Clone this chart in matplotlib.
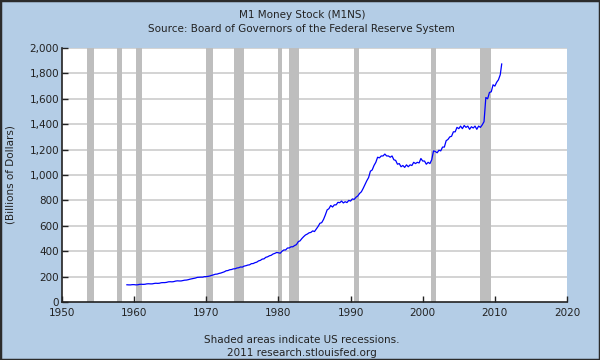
import matplotlib
matplotlib.use("Agg")
import matplotlib.pyplot as plt
from matplotlib.patches import Rectangle

# Quarterly M1NS values (billions of dollars), 1959-2010
years = list(range(1959, 2011))
quarterly_values = [
    136, 135, 135, 137,   # 1959
    137, 135, 136, 139,   # 1960
    140, 139, 140, 143,   # 1961
    144, 143, 143, 146,   # 1962
    148, 147, 148, 152,   # 1963
    153, 153, 155, 159,   # 1964
    160, 159, 161, 165,   # 1965
    167, 166, 166, 169,   # 1966
    172, 173, 176, 180,   # 1967
    183, 186, 189, 194,   # 1968
    195, 196, 196, 200,   # 1969
    200, 202, 205, 210,   # 1970
    214, 219, 220, 225,   # 1971
    228, 233, 238, 246,   # 1972
    248, 254, 256, 261,   # 1973
    262, 268, 270, 276,   # 1974
    275, 283, 286, 291,   # 1975
    293, 302, 303, 310,   # 1976
    314, 324, 328, 338,   # 1977
    340, 352, 356, 364,   # 1978
    368, 378, 383, 390,   # 1979
    388, 384, 400, 410,   # 1980
    410, 425, 426, 435,   # 1981
    435, 445, 452, 475,   # 1982
    482, 500, 515, 528,   # 1983
    535, 545, 548, 560,   # 1984
    555, 575, 595, 620,   # 1985
    625, 650, 685, 725,   # 1986
    735, 760, 748, 765,   # 1987
    765, 785, 782, 795,   # 1988
    780, 790, 783, 800,   # 1989
    795, 812, 808, 825,   # 1990
    835, 855, 868, 895,   # 1991
    925, 955, 980, 1030,  # 1992
    1040, 1075, 1100, 1140,  # 1993
    1135, 1150, 1150, 1165,  # 1994
    1150, 1150, 1140, 1150,  # 1995
    1120, 1115, 1085, 1090,  # 1996
    1065, 1075, 1060, 1080,  # 1997
    1065, 1080, 1075, 1100,  # 1998
    1090, 1100, 1095, 1130,  # 1999
    1110, 1110, 1085, 1100,  # 2000
    1090, 1120, 1190, 1185,  # 2001
    1175, 1195, 1190, 1220,  # 2002
    1220, 1270, 1280, 1300,  # 2003
    1305, 1340, 1340, 1375,  # 2004
    1365, 1385, 1365, 1390,  # 2005
    1375, 1385, 1360, 1380,  # 2006
    1370, 1385, 1360, 1385,  # 2007
    1375, 1395, 1420, 1610,  # 2008
    1600, 1650, 1655, 1710,  # 2009
    1700, 1730, 1750, 1790,  # 2010
]
last_date = 2010.95
last_value = 1874

# US recessions (start, end) in decimal years
recessions = [
    (1953.5, 1954.4), (1957.6, 1958.3), (1960.3, 1961.1), (1969.9, 1970.9),
    (1973.85, 1975.2), (1980.0, 1980.5), (1981.5, 1982.9), (1990.5, 1991.2),
    (2001.2, 2001.9), (2007.9, 2009.5),
]

xticks = [1950, 1960, 1970, 1980, 1990, 2000, 2010, 2020]
yticks = list(range(0, 2001, 200))

dates = [y + q / 4.0 for y in years for q in range(4)] + [last_date]
values = quarterly_values + [last_value]

bg = "#B4CDE6"
fig = plt.figure(figsize=(6, 3.6), dpi=100, facecolor=bg)
fig.patches.append(Rectangle((0, 0), 1, 1, transform=fig.transFigure,
                             fill=False, edgecolor="#2b2b2b", linewidth=2.5))
ax = fig.add_axes([0.1033, 0.161, 0.8417, 0.7057])
ax.set_facecolor("white")

for s, e in recessions:
    ax.axvspan(s, e, color="#BEBEBE", lw=0, zorder=1)

for yv in yticks[1:]:
    ax.axhline(yv, color="#CCCCCC", lw=1.2, zorder=0.5)

ax.plot(dates, values, color="#0000FF", lw=0.9, zorder=3)

ax.set_xlim(1950, 2020)
ax.set_ylim(0, 2000)
ax.set_xticks(xticks)
ax.set_yticks(yticks)
ax.set_yticklabels([f"{v:,}" for v in yticks])
ax.tick_params(direction="in", length=4, width=1, labelsize=7.5,
               colors="#222222", pad=2)
ax.tick_params(axis="x", pad=4)
for side in ["top", "right"]:
    ax.spines[side].set_visible(False)
for side in ["left", "bottom"]:
    ax.spines[side].set_color("#222222")
    ax.spines[side].set_linewidth(1.2)

ax.set_ylabel("(Billions of Dollars)", fontsize=7.5, color="#222222", labelpad=10)

fig.text(0.503, 0.958, "M1 Money Stock (M1NS)", ha="center", va="center",
         fontsize=7.5, color="#222222")
fig.text(0.503, 0.92, "Source: Board of Governors of the Federal Reserve System",
         ha="center", va="center", fontsize=7.5, color="#222222")
fig.text(0.503, 0.055, "Shaded areas indicate US recessions.", ha="center",
         va="center", fontsize=7.5, color="#222222")
fig.text(0.503, 0.019, "2011 research.stlouisfed.org", ha="center",
         va="center", fontsize=7.5, color="#222222")

fig.savefig("out.png", dpi=100, facecolor=bg)
